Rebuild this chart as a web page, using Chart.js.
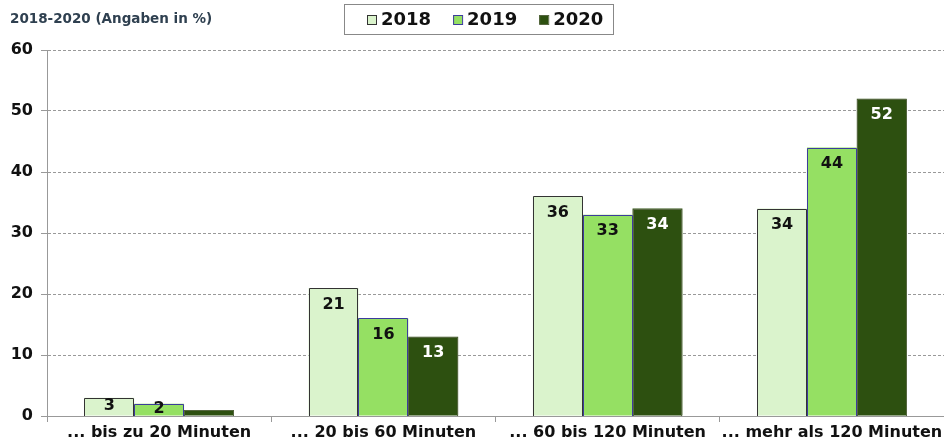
<!DOCTYPE html>
<html>
<head>
<meta charset="utf-8">
<script src="https://cdn.jsdelivr.net/npm/chart.js@4"></script>
<style>
  html, body { margin: 0; padding: 0; background: #fff; }
  #wrap { width: 944px; height: 448px; }
</style>
</head>
<body>
<div id="wrap"><canvas id="barChart" width="944" height="448"></canvas></div>
<script>
var categories = ['... bis zu 20 Minuten', '... 20 bis 60 Minuten', '... 60 bis 120 Minuten', '... mehr als 120 Minuten'];
var years = ['2018', '2019', '2020'];
var values2018 = [3, 21, 36, 34];
var values2019 = [2, 16, 33, 44];
var values2020 = [1, 13, 34, 52];
var yTicks = [0, 10, 20, 30, 40, 50, 60];

var fills = ['#daf3cc', '#95e063', '#2d5010'];
var borders = ['#333333', '#3c3c9c', '#55663f'];
var labelColors = ['#111', '#111', '#fff'];
var FONT = '"DejaVu Sans", Verdana, sans-serif';

// title and framed legend at the top
var headerPlugin = {
    id: 'header',
    afterDraw: function(chart) {
        var c = chart.ctx;
        c.save();
        c.font = 'bold 13.5px ' + FONT;
        c.fillStyle = '#2f4050';
        c.textAlign = 'left';
        c.textBaseline = 'middle';
        c.fillText('2018-2020 (Angaben in %)', 10, 19);

        c.strokeStyle = '#888';
        c.lineWidth = 1;
        c.strokeRect(344.5, 4.5, 269, 30);
        var x = 367;
        c.font = 'bold 18px ' + FONT;
        years.forEach(function(y, i) {
            c.fillStyle = fills[i];
            c.fillRect(x, 15, 9, 9);
            c.strokeStyle = borders[i];
            c.strokeRect(x + 0.5, 15.5, 9, 9);
            c.fillStyle = '#111';
            c.fillText(y, x + 14, 20);
            x += c.measureText(y).width + 36;
        });
        c.restore();
    }
};

// crisp 1px outlines, then value labels inside the top of each bar
var barDecor = {
    id: 'barDecor',
    afterDatasetsDraw: function(chart) {
        var c = chart.ctx;
        c.save();
        c.lineWidth = 1;
        chart.data.datasets.forEach(function(ds, i) {
            chart.getDatasetMeta(i).data.forEach(function(bar) {
                var l = Math.round(bar.x - bar.width / 2) + 0.5;
                var r = Math.round(bar.x + bar.width / 2) - 0.5;
                var t = Math.round(bar.y) + 0.5;
                var b = Math.round(bar.base);
                c.strokeStyle = borders[i];
                c.beginPath();
                c.moveTo(l, b);
                c.lineTo(l, t);
                c.lineTo(r, t);
                c.lineTo(r, b);
                c.stroke();
            });
        });

        c.font = 'bold 16px ' + FONT;
        c.textAlign = 'center';
        c.textBaseline = 'middle';
        chart.data.datasets.forEach(function(ds, i) {
            chart.getDatasetMeta(i).data.forEach(function(bar, j) {
                var v = ds.data[j];
                if (v < 2) return;
                var h = bar.base - bar.y;
                c.fillStyle = labelColors[i];
                c.fillText(v, bar.x, bar.y + Math.min(16.5, h / 2 - 1));
            });
        });
        c.restore();
    }
};

var datasets = [values2018, values2019, values2020].map(function(vals, i) {
    return {
        label: years[i],
        data: vals,
        backgroundColor: fills[i],
        borderWidth: 0,
        categoryPercentage: 0.667,
        barPercentage: 1
    };
});

new Chart(document.getElementById('barChart'), {
    type: 'bar',
    data: { labels: categories, datasets: datasets },
    options: {
        responsive: false,
        animation: false,
        layout: { padding: { top: 50, right: 0, left: 0, bottom: 0 } },
        plugins: {
            legend: { display: false },
            tooltip: { enabled: false }
        },
        scales: {
            x: {
                grid: { drawOnChartArea: false, drawTicks: true, tickLength: 6, offset: true, color: '#999' },
                border: { color: '#999' },
                ticks: { color: '#111', font: { family: FONT, size: 16, weight: 'bold' }, padding: 1, maxRotation: 0, autoSkip: false },
                afterFit: function(scale) { scale.height = 32; }
            },
            y: {
                min: 0,
                max: 60,
                afterBuildTicks: function(scale) {
                    scale.ticks = yTicks.map(function(v) { return { value: v }; });
                },
                grid: { color: '#999', tickLength: 6 },
                border: {
                    color: '#999',
                    dash: function(ctx) { return ctx.tick && ctx.tick.value === 0 ? [] : [3, 2]; }
                },
                ticks: { color: '#111', font: { family: FONT, size: 16, weight: 'bold' }, padding: 8 },
                afterFit: function(scale) { scale.width = 47; }
            }
        }
    },
    plugins: [headerPlugin, barDecor]
});
</script>
</body>
</html>
